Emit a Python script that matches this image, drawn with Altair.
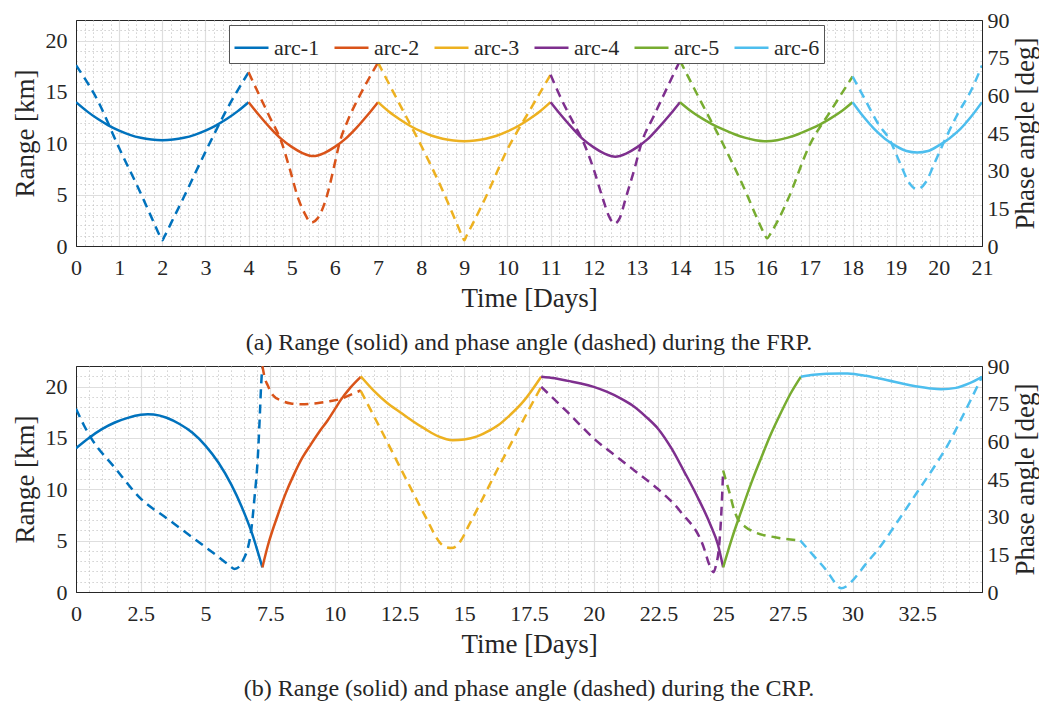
import altair as alt
import pandas as pd

ARCS = ["arc-1", "arc-2", "arc-3", "arc-4", "arc-5", "arc-6"]
COLORS = ["#0072BD", "#D95319", "#EDB120", "#7E2F8E", "#77AC30", "#4DBEEE"]

# ---------------- FRP (panel a) ----------------
FRP_R_T1 = [0, 0.25, 0.5, 0.75, 1, 1.25, 1.5, 1.75, 2, 2.25, 2.5, 2.75, 3, 3.25, 3.5, 3.75, 4]
FRP_R_V1 = [14.0, 13.13, 12.38, 11.75, 11.23, 10.82, 10.53, 10.36, 10.3, 10.36, 10.53, 10.82, 11.23, 11.75, 12.38, 13.13, 14.0]
FRP_R_T2 = [4, 4.25, 4.5, 4.75, 5, 5.25, 5.5, 5.75, 6, 6.25, 6.5, 6.75, 7]
FRP_R_V2 = [14.0, 12.7, 11.5, 10.45, 9.65, 9.05, 8.75, 9.05, 9.65, 10.45, 11.5, 12.7, 14.0]
FRP_R_T3 = [7, 7.25, 7.5, 7.75, 8, 8.25, 8.5, 8.75, 9, 9.25, 9.5, 9.75, 10, 10.25, 10.5, 10.75, 11]
FRP_R_V3 = [14.0, 13.09, 12.34, 11.68, 11.15, 10.73, 10.44, 10.26, 10.2, 10.26, 10.44, 10.73, 11.15, 11.68, 12.34, 13.09, 14.0]
FRP_R_T4 = [11, 11.25, 11.5, 11.75, 12, 12.25, 12.5, 12.75, 13, 13.25, 13.5, 13.75, 14]
FRP_R_V4 = [14.0, 12.7, 11.5, 10.4, 9.6, 9.0, 8.7, 9.0, 9.6, 10.4, 11.5, 12.7, 14.0]
FRP_R_T5 = [14, 14.25, 14.5, 14.75, 15, 15.25, 15.5, 15.75, 16, 16.25, 16.5, 16.75, 17, 17.25, 17.5, 17.75, 18]
FRP_R_V5 = [14.0, 13.15, 12.45, 11.85, 11.35, 10.9, 10.55, 10.3, 10.2, 10.3, 10.55, 10.9, 11.35, 11.85, 12.45, 13.15, 14.0]
FRP_R_T6 = [18, 18.25, 18.5, 18.75, 19, 19.25, 19.5, 19.75, 20, 20.25, 20.5, 20.75, 21]
FRP_R_V6 = [14.0, 12.6, 11.4, 10.45, 9.75, 9.25, 9.1, 9.25, 9.8, 10.5, 11.4, 12.6, 14.0]

FRP_P_T1 = [0, 0.5, 1.0, 1.5, 1.8, 1.95, 2.0, 2.05, 2.2, 2.5, 3.0, 3.5, 4.0]
FRP_P_V1 = [72, 58, 39, 21, 9.5, 3.8, 2.3, 3.8, 9, 19.5, 37.5, 54.5, 69.2]
FRP_P_T2 = [4, 4.25, 4.5, 4.75, 4.95, 5.15, 5.3, 5.45, 5.6, 5.8, 6.0, 6.1, 6.3, 6.55, 6.8, 7.0]
FRP_P_V2 = [69.2, 60, 51, 42, 31, 19, 13, 9.3, 11, 19, 33, 40.5, 50, 59, 67, 73]
FRP_P_T3 = [7, 7.5, 8, 8.5, 8.8, 8.95, 9, 9.05, 9.2, 9.5, 10, 10.5, 11]
FRP_P_V3 = [73, 56.5, 40, 22, 10, 4, 2.3, 4, 9, 19.5, 38.5, 53.5, 68.2]
FRP_P_T4 = [11, 11.25, 11.5, 11.78, 12.0, 12.2, 12.35, 12.48, 12.6, 12.75, 12.95, 13.1, 13.4, 13.7, 14]
FRP_P_V4 = [68.2, 58.5, 50, 40.6, 30.5, 19.5, 12, 8.9, 11, 19.5, 31, 40.6, 52, 63, 73.8]
FRP_P_T5 = [14, 14.5, 15, 15.5, 15.8, 15.95, 16.02, 16.1, 16.25, 16.5, 17, 17.5, 18]
FRP_P_V5 = [73.8, 57, 40.5, 22.5, 10.5, 5, 3.1, 5, 9.5, 18.5, 40, 54, 67.5]
FRP_P_T6 = [18, 18.3, 18.6, 18.85, 19.1, 19.3, 19.5, 19.7, 19.9, 20.15, 20.45, 20.75, 21]
FRP_P_V6 = [67.5, 58, 48.5, 42.6, 33, 25.5, 22.6, 25.5, 33, 42.6, 53, 62, 71.9]

# ---------------- CRP (panel b) ----------------
CRP_R_T1 = [0, 0.5, 1, 1.5, 2, 2.5, 2.77, 3, 3.5, 4, 4.5, 5, 5.5, 6, 6.4, 6.8, 7.2]
CRP_R_V1 = [14.0, 15.0, 15.85, 16.5, 16.95, 17.25, 17.3, 17.27, 16.96, 16.35, 15.5, 14.25, 12.6, 10.45, 8.3, 5.7, 2.4]
CRP_R_T2 = [7.2, 7.41, 7.79, 8.1, 8.43, 8.75, 9.08, 9.4, 9.72, 10.0, 10.23, 10.6, 11.0]
CRP_R_V2 = [2.4, 4.5, 7.45, 9.6, 11.5, 13.1, 14.4, 15.6, 16.7, 17.8, 18.7, 19.9, 20.95]
CRP_R_T3 = [11, 11.5, 12, 12.55, 13, 13.5, 14, 14.55, 15, 15.5, 16, 16.29, 16.8, 17.3, 17.97]
CRP_R_V3 = [21.0, 19.6, 18.45, 17.45, 16.65, 15.85, 15.15, 14.78, 14.85, 15.15, 15.75, 16.2, 17.3, 18.6, 20.95]
CRP_R_T4 = [17.97, 18.5, 19, 19.5, 20, 20.5, 21, 21.5, 22, 22.5, 23, 23.5, 24, 24.5, 24.8, 25.0]
CRP_R_V4 = [20.95, 20.8, 20.55, 20.3, 19.97, 19.5, 18.9, 18.15, 17.1, 15.85, 14.0, 11.7, 9.3, 6.6, 4.6, 2.4]
CRP_R_T5 = [25.0, 25.35, 25.69, 26.1, 26.46, 26.85, 27.24, 27.6, 28.0]
CRP_R_V5 = [2.4, 5.3, 7.8, 10.7, 13.0, 15.4, 17.5, 19.3, 20.95]
CRP_R_T6 = [28.0, 28.5, 29, 29.5, 29.81, 30.5, 31, 31.61, 32, 32.5, 33, 33.42, 34, 34.5, 35]
CRP_R_V6 = [20.95, 21.15, 21.25, 21.28, 21.27, 21.05, 20.8, 20.46, 20.25, 20.0, 19.82, 19.74, 19.87, 20.3, 20.95]

CRP_P_T1 = [0, 0.3, 0.58, 1.5, 2.51, 3.5, 4.57, 5.5, 5.9, 6.12, 6.3, 6.48, 6.65, 6.76, 6.9, 7.02, 7.1, 7.15, 7.2]
CRP_P_V1 = [73, 66.5, 61.4, 49.5, 37.1, 29.4, 21.2, 14, 10.8, 9.2, 10, 13.2, 18, 23.9, 38, 53, 70, 82, 90]
CRP_P_T2 = [7.2, 7.3, 7.4, 7.6, 7.92, 8.3, 8.7, 9.3, 9.8, 10.23, 10.6, 11.0]
CRP_P_V2 = [90, 85, 82.4, 78.5, 76.3, 75.1, 74.8, 75.2, 76, 76.9, 78.5, 80.3]
CRP_P_T3 = [11, 11.5, 12, 12.55, 13, 13.5, 14.1, 14.3, 14.5, 14.7, 14.85, 15.2, 15.7, 16.29, 16.8, 17.4, 17.97]
CRP_P_V3 = [80.1, 70.2, 60.2, 49, 40, 30, 19.2, 17.8, 17.5, 18.3, 20.2, 27, 37, 49, 59, 70.8, 81.7]
CRP_P_T4 = [17.97, 19, 20.02, 21, 21.82, 22.47, 23.37, 24.27, 24.46, 24.63, 24.72, 24.82, 24.9, 24.96, 25.0]
CRP_P_V4 = [81.7, 71.5, 61, 53, 46.4, 41.1, 31.8, 17.2, 11, 7.9, 10.5, 16, 26, 38, 48.4]
CRP_P_T5 = [25.0, 25.12, 25.24, 25.4, 25.56, 25.85, 26.2, 27.0, 27.98]
CRP_P_V5 = [48.4, 44, 39.8, 33.5, 29.2, 26.0, 23.9, 21.8, 20.5]
CRP_P_T6 = [27.98, 28.5, 29.04, 29.3, 29.55, 29.75, 29.94, 30.5, 31.1, 31.8, 32.5, 33.1, 33.67, 34.3, 35]
CRP_P_V6 = [20.5, 14.4, 7.9, 4, 1.5, 2.2, 3.9, 11, 18.5, 29, 39.8, 49, 58.4, 71, 85.7]

# tick positions
FRP_X_TICKS = [round(i * 0.2, 1) for i in range(0, 106)]
CRP_X_TICKS = [round(i * 0.5, 1) for i in range(0, 70)]
Y_TICKS = list(range(0, 22))
PHASE_TICKS = [0, 15, 30, 45, 60, 75, 90]

CAPTION_A = "(a) Range (solid) and phase angle (dashed) during the FRP."
CAPTION_B = "(b) Range (solid) and phase angle (dashed) during the CRP."

SERIF = "Liberation Serif"
INK = "#262626"
FONTS = dict(labelFont=SERIF, titleFont=SERIF, labelFontSize=22, titleFontSize=27,
             labelColor=INK, titleColor=INK, titleFontWeight="normal")


def frame(ts, vs, col):
    rows = []
    for arc, t, v in zip(ARCS, ts, vs):
        for a, b in zip(t, v):
            rows.append({"arc": arc, "t": a, col: b})
    return pd.DataFrame(rows)


def cond(test, yes, no):
    return {"condition": {"test": test, "value": yes}, "value": no}


color_scale = alt.Scale(domain=ARCS, range=COLORS)


def panel(df_r, df_p, xmax, xticks, xmajor, caption, legend):
    xmaj_test = f"abs(datum.value/{xmajor} - round(datum.value/{xmajor})) < 1e-6"
    ymaj_test = "abs(datum.value/5 - round(datum.value/5)) < 1e-6"
    xaxis = alt.Axis(
        values=xticks, title="Time [Days]", ticks=False, labelOverlap=False,
        labelFlush=False, labelPadding=11, titlePadding=7,
        labelExpr=f"{xmaj_test} ? format(datum.value, '~g') : ''",
        gridColor=cond(xmaj_test, "#dedede", "#c4c4c4"),
        gridDash=cond(xmaj_test, [], [1.2, 2.8]),
        gridWidth=cond(xmaj_test, 1.2, 1),
        gridOpacity=cond(f"datum.value <= 0 || datum.value >= {xmax}", 0, 1),
        **FONTS,
    )
    yaxis = alt.Axis(
        values=Y_TICKS, title="Range [km]", ticks=False, labelOverlap=False,
        labelPadding=9, titlePadding=6,
        labelExpr=f"{ymaj_test} ? format(datum.value, '~g') : ''",
        gridColor=cond(ymaj_test, "#dedede", "#c4c4c4"),
        gridDash=cond(ymaj_test, [], [1.2, 2.8]),
        gridWidth=cond(ymaj_test, 1.2, 1),
        gridOpacity=cond("datum.value <= 0", 0, 1),
        **FONTS,
    )
    paxis = alt.Axis(
        values=PHASE_TICKS, title="Phase angle [deg]", orient="right", grid=False,
        ticks=False, labelPadding=5, titlePadding=3, titleAngle=270,
        titleBaseline="top", labelOverlap=False,
        **FONTS,
    )
    x = alt.X("t:Q", scale=alt.Scale(domain=[0, xmax], nice=False, zero=False), axis=xaxis)
    leg = None
    if legend:
        leg = alt.Legend(
            orient="none", legendX=153, legendY=5, direction="horizontal", columns=6,
            title=None, symbolType="stroke", symbolSize=1156, symbolStrokeWidth=2.5,
            labelFontSize=22, labelFont=SERIF, labelColor=INK, fillColor="white",
            strokeColor="#555555", padding=4, columnPadding=9, labelOffset=4,
            symbolDash=[],
        )
    solid = alt.Chart(df_r).mark_line(strokeWidth=2.5, clip=True, interpolate="monotone").encode(
        x=x,
        y=alt.Y("km:Q", scale=alt.Scale(domain=[0, 22], nice=False), axis=yaxis),
        color=alt.Color("arc:N", scale=color_scale, legend=leg),
    )
    dashed = alt.Chart(df_p).mark_line(strokeWidth=2.5, strokeDash=[9, 6], clip=True,
                                       interpolate="monotone").encode(
        x=x,
        y=alt.Y("deg:Q", scale=alt.Scale(domain=[0, 90], nice=False), axis=paxis),
        color=alt.Color("arc:N", scale=color_scale, legend=None),
    )
    return alt.layer(solid, dashed).resolve_scale(y="independent").properties(
        width=906, height=226,
        title=alt.TitleParams(caption, orient="bottom", anchor="middle", fontSize=24,
                              font=SERIF, fontWeight="normal", color=INK, offset=20),
    )


frp_r = frame([FRP_R_T1, FRP_R_T2, FRP_R_T3, FRP_R_T4, FRP_R_T5, FRP_R_T6],
              [FRP_R_V1, FRP_R_V2, FRP_R_V3, FRP_R_V4, FRP_R_V5, FRP_R_V6], "km")
frp_p = frame([FRP_P_T1, FRP_P_T2, FRP_P_T3, FRP_P_T4, FRP_P_T5, FRP_P_T6],
              [FRP_P_V1, FRP_P_V2, FRP_P_V3, FRP_P_V4, FRP_P_V5, FRP_P_V6], "deg")
crp_r = frame([CRP_R_T1, CRP_R_T2, CRP_R_T3, CRP_R_T4, CRP_R_T5, CRP_R_T6],
              [CRP_R_V1, CRP_R_V2, CRP_R_V3, CRP_R_V4, CRP_R_V5, CRP_R_V6], "km")
crp_p = frame([CRP_P_T1, CRP_P_T2, CRP_P_T3, CRP_P_T4, CRP_P_T5, CRP_P_T6],
              [CRP_P_V1, CRP_P_V2, CRP_P_V3, CRP_P_V4, CRP_P_V5, CRP_P_V6], "deg")

pa = panel(frp_r, frp_p, 21, FRP_X_TICKS, 1, CAPTION_A, True)
pb = panel(crp_r, crp_p, 35, CRP_X_TICKS, 2.5, CAPTION_B, False)

chart = alt.vconcat(pa, pb, spacing=-2).resolve_legend(color="independent").properties(
    padding={"left": 2, "top": 0, "right": 0, "bottom": 0}
).configure_axis(
    domainColor=INK, domainWidth=1,
).configure_view(stroke=INK, strokeWidth=1)

chart.save("out.html", embed_options={"renderer": "svg", "actions": False})
